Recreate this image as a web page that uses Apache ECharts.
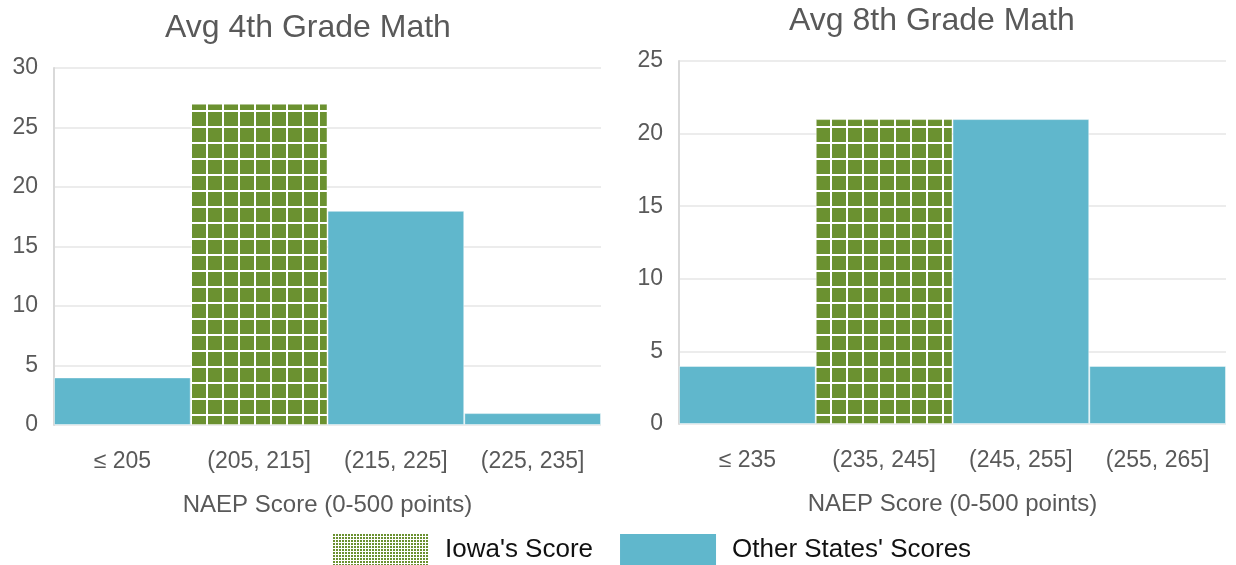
<!DOCTYPE html>
<html><head><meta charset="utf-8">
<script src="https://cdn.jsdelivr.net/npm/echarts@6/dist/echarts.min.js"></script>
<style>html,body{margin:0;padding:0;background:#fff}#c{width:1236px;height:565px}</style>
</head><body><div id="c"></div>
<script>
const cats4 = ['≤ 205', '(205, 215]', '(215, 225]', '(225, 235]'];
const counts4 = [4, 27, 18, 1];
const iowaIdx4 = 1;
const cats8 = ['≤ 235', '(235, 245]', '(245, 255]', '(255, 265]'];
const counts8 = [4, 21, 21, 4];
const iowaIdx8 = 1;
const titles = ['Avg 4th Grade Math', 'Avg 8th Grade Math'];
const xName = 'NAEP Score (0-500 points)';
const seriesNames = ["Iowa's Score", "Other States' Scores"];

const GREEN = '#6b9130', BLUE = '#60b7cc';
function pattern(period, gap) {
  const c = document.createElement('canvas');
  c.width = period; c.height = period;
  const g = c.getContext('2d');
  g.fillStyle = '#fff'; g.fillRect(0, 0, period, period);
  g.fillStyle = GREEN; g.fillRect(0, 0, period - gap, period - gap);
  return { image: c, repeat: 'repeat' };
}
const bigPat = pattern(16, 2);
const smallPat = pattern(3, 1);

function split(vals, idx) {
  return [vals.map((v, i) => i === idx ? v : null), vals.map((v, i) => i === idx ? null : v)];
}
const [i4, o4] = split(counts4, iowaIdx4);
const [i8, o8] = split(counts8, iowaIdx8);

const font = 'Liberation Sans, Arial, sans-serif';
function xAxis(gi, cats) {
  return { type: 'category', gridIndex: gi, data: cats, axisTick: { show: false },
    axisLine: { show: false },
    axisLabel: { margin: 25, color: '#595959', fontSize: 23, fontFamily: font },
    name: xName, nameLocation: 'middle', nameGap: 68,
    nameTextStyle: { color: '#595959', fontSize: 24, fontFamily: font } };
}
function yAxis(gi, max, interval) {
  return { type: 'value', gridIndex: gi, min: 0, max: max, interval: interval,
    axisLine: { show: true, lineStyle: { color: '#d9d9d9', width: 2 } },
    axisTick: { show: false },
    splitLine: { lineStyle: { color: '#ececec', width: 2 } },
    axisLabel: { margin: 16, color: '#595959', fontSize: 23, fontFamily: font } };
}
const barStyle = (color) => ({ color: color, borderColor: 'rgba(255,255,255,0.45)', borderWidth: 1 });
function bars(name, data, xi, color) {
  return { name: name, type: 'bar', xAxisIndex: xi, yAxisIndex: xi, data: data, stack: 's' + xi,
    barCategoryGap: '0%', itemStyle: barStyle(color), emphasis: { disabled: true } };
}
const titleStyle = { color: '#595959', fontSize: 32, fontWeight: 'normal', fontFamily: font };

const chart = echarts.init(document.getElementById('c'), null, { renderer: 'canvas' });
chart.setOption({
  animation: false,
  title: [
    { text: titles[0], left: 308, top: 12, padding: 0, textAlign: 'center', textStyle: titleStyle },
    { text: titles[1], left: 932, top: 5, padding: 0, textAlign: 'center', textStyle: titleStyle }
  ],
  legend: {
    left: 333, top: 534, padding: 0, itemWidth: 96, itemHeight: 31, itemGap: 27,
    textStyle: { color: '#111', fontSize: 26, fontFamily: font, padding: [2, 0, 0, 11] },
    data: [
      { name: seriesNames[0], icon: 'rect', itemStyle: { color: smallPat, borderWidth: 0 } },
      { name: seriesNames[1], icon: 'rect', itemStyle: { color: BLUE, borderWidth: 0 } }
    ],
    selectedMode: false
  },
  grid: [
    { left: 54, right: 635, top: 68, bottom: 140 },
    { left: 679, right: 10, top: 61, bottom: 141 }
  ],
  xAxis: [xAxis(0, cats4), xAxis(1, cats8)],
  yAxis: [yAxis(0, 30, 5), yAxis(1, 25, 5)],
  series: [
    bars(seriesNames[0], i4, 0, bigPat),
    bars(seriesNames[1], o4, 0, BLUE),
    bars(seriesNames[0], i8, 1, bigPat),
    bars(seriesNames[1], o8, 1, BLUE)
  ]
});
</script></body></html>
